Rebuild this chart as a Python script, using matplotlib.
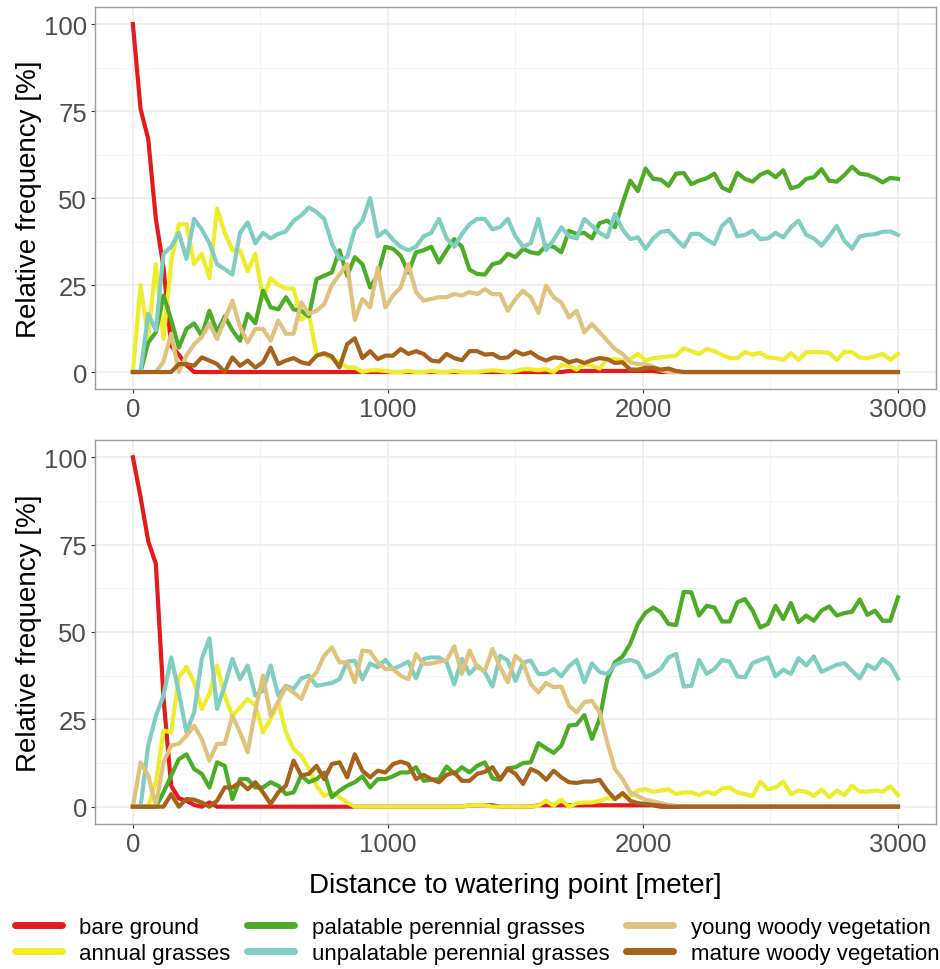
import numpy as np
import matplotlib
matplotlib.use("Agg")
import matplotlib.pyplot as plt
from matplotlib.lines import Line2D

plt.rcParams['font.family'] = ['Liberation Sans', 'DejaVu Sans']

# distance classes (m), one value every 30 m
distance = list(range(0, 3001, 30))

series_names = ["bare ground", "annual grasses", "palatable perennial grasses",
                "unpalatable perennial grasses", "young woody vegetation",
                "mature woody vegetation"]
colours = ["#E41A1C", "#EDED2B", "#4DAC26", "#80CDC1", "#DFC27D", "#A6611A"]

# ---- upper panel ----
top_bare = [100, 75.6, 67, 44, 30, 7.5, 5, 2, 0, 0,
            0, 0, 0, 0, 0, 0, 0, 0, 0, 0,
            0, 0, 0, 0, 0, 0, 0, 0, 0, 0,
            0, 0, 0, 0, 0, 0, 0, 0, 0, 0,
            0, 0, 0, 0, 0, 0, 0, 0, 0, 0,
            0, 0, 0, 0, 0, 0, 0, 0.3, 0.3, 0.3,
            0.3, 0.3, 0.3, 0.3, 0.3, 0.3, 0.3, 0.3, 0.3, 0,
            0, 0, 0, 0, 0, 0, 0, 0, 0, 0,
            0, 0, 0, 0, 0, 0, 0, 0, 0, 0,
            0, 0, 0, 0, 0, 0, 0, 0, 0, 0,
            0]
top_annual = [0, 25, 10, 31, 9.5, 31.5, 42.5, 42.5, 31, 34,
              27, 47, 40, 35, 35, 29, 34, 21, 27, 25,
              24, 24, 15, 17, 5, 5, 4, 3, 1.3, 1.3,
              0, 0.5, 0.5, 0.3, 0, 0, 0.3, 0, 0, 0.3,
              0, 0, 0.3, 0, 0, 0, 0.3, 0.5, 0.3, 0,
              0.3, 0.8, 0.8, 0.5, 0.8, 0, 2, 1.8, 0.7, 2.3,
              1.8, 1, 3.7, 3.7, 3.3, 3.7, 5.2, 3.3, 4, 4.2,
              4.5, 4.7, 6.8, 6, 5.2, 6.6, 6, 4.9, 4, 4,
              5.7, 5, 5.5, 4.2, 4, 3.5, 5.4, 3.5, 5.7, 5.8,
              5.7, 5.5, 3.5, 5.8, 5.7, 4.2, 4, 4.5, 5.2, 3.5,
              5.2]
top_palatable = [0, 0, 8.5, 11.4, 22, 15, 7, 12.4, 14, 10.4,
                 17.6, 11.4, 16, 12, 9, 16.7, 14, 23.4, 18.6, 18,
                 21.5, 18, 17.6, 16, 26.7, 27.7, 28.6, 35, 27.7, 33,
                 31, 24.3, 28, 36, 35.4, 33.4, 28.6, 34.4, 35, 36,
                 31.5, 35, 38.2, 36, 29.4, 28.2, 28, 31, 31.5, 34,
                 33, 35.4, 34.4, 34, 36.3, 36, 34.4, 40.6, 39.7, 40,
                 38.4, 42.8, 43.5, 41.6, 48.5, 55, 52, 58.5, 55.5, 55.3,
                 53.5, 57, 57.2, 54, 55, 55.7, 57, 53, 52, 57.2,
                 55.5, 54.7, 56.7, 57.6, 56, 58, 52.8, 53.4, 55.5, 56,
                 58.3, 55, 54.7, 56.6, 59, 57, 56.7, 55.8, 54.5, 55.8,
                 55.5]
top_unpalatable = [0, 0, 16.7, 12, 34, 36, 40, 32.5, 44, 41,
                   37, 31, 29.6, 28, 40, 43, 37, 40, 38.4, 39.7,
                   40.4, 43.5, 45, 47.3, 46, 44, 37, 32.5, 33, 41,
                   43.5, 50, 39, 40.6, 38, 36, 35, 36, 39, 40,
                   44, 38.4, 36, 39.7, 42.5, 44, 44, 41, 41.7, 44,
                   39, 36, 37, 44, 35, 38, 41.6, 39, 38.4, 44,
                   42, 40, 38.7, 45.4, 41, 38.2, 38.7, 35.4, 38.4, 40.3,
                   40.6, 38.2, 36, 39.7, 39.7, 38, 36.8, 42, 44, 39,
                   39.4, 40.6, 38.2, 38.4, 40, 38.7, 41.6, 43.5, 39.4, 38.4,
                   36.3, 39, 42, 37.7, 35.5, 39, 39.4, 39.6, 40.3, 40.4,
                   39.4]
top_young = [0, 0, 0, 0, 3, 11, 0, 4.7, 8, 10,
             14, 9.5, 15, 20.5, 13, 8.5, 12.4, 12.4, 9, 14.8,
             11, 11, 20, 16.7, 17.6, 19.5, 25, 28, 31, 15,
             21, 18.6, 30, 18.6, 22, 24.3, 31, 23, 20.5, 21,
             21.5, 21.5, 22.4, 22, 23, 22.4, 23.8, 22.4, 22.4, 17.6,
             21, 23.4, 21.5, 17, 24.8, 21.5, 20, 15.7, 17.6, 11.4,
             13.8, 11.4, 9, 6.6, 5.2, 2.8, 2.3, 2.3, 1.5, 0.5,
             0, 0, 0, 0, 0, 0, 0, 0, 0, 0,
             0, 0, 0, 0, 0, 0, 0, 0, 0, 0,
             0, 0, 0, 0, 0, 0, 0, 0, 0, 0,
             0]
top_mature = [0, 0, 0, 0, 0, 0, 2.3, 2.3, 1.8, 4.2,
              3.3, 2.3, 0, 4.2, 1.8, 3.3, 1.3, 2.8, 7, 2.3,
              3.3, 4, 2.8, 2.3, 4.7, 5.4, 4.5, 1.3, 8, 9.7,
              4, 6, 3.7, 4.7, 4.7, 6.6, 5.2, 6, 5.2, 3.3,
              3, 5.2, 4, 3.4, 6, 6, 5, 5.2, 4, 4.2,
              6, 5, 5.7, 4.2, 3.3, 4.2, 4, 2.8, 3.4, 2.6,
              3.4, 4, 3.7, 2.6, 2.8, 0.7, 0.7, 1.2, 1.2, 0.7,
              1, 0.3, 0, 0, 0, 0, 0, 0, 0, 0,
              0, 0, 0, 0, 0, 0, 0, 0, 0, 0,
              0, 0, 0, 0, 0, 0, 0, 0, 0, 0,
              0]

# ---- lower panel ----
bot_bare = [100, 88.6, 76, 69.5, 31, 6, 2.4, 1.7, 0.5, 0,
            1.2, 0, 0, 0, 0, 0, 0, 0, 0, 0,
            0, 0, 0, 0, 0, 0, 0, 0, 0, 0,
            0, 0, 0, 0, 0, 0, 0, 0, 0, 0,
            0, 0, 0, 0, 0.4, 0.4, 0.4, 0.4, 0, 0,
            0, 0, 0, 0.4, 0.4, 0.4, 0.4, 0.4, 0.4, 0.4,
            0.4, 0.4, 0.4, 0.4, 0.4, 0.4, 0.4, 0.4, 0.4, 0,
            0, 0, 0, 0, 0, 0, 0, 0, 0, 0,
            0, 0, 0, 0, 0, 0, 0, 0, 0, 0,
            0, 0, 0, 0, 0, 0, 0, 0, 0, 0,
            0]
bot_annual = [0, 0, 0, 7, 21.8, 21.3, 37, 40, 35.6, 28,
              32.3, 40.4, 31.8, 26, 28.4, 30.8, 29, 21.3, 25, 30,
              21.3, 16.5, 14.6, 10.8, 6, 3.1, 4.1, 2.7, 1.2, 0,
              0, 0, 0, 0, 0, 0, 0, 0, 0, 0,
              0, 0, 0, 0, 0.4, 0.5, 0.4, 0, 0, 0,
              0, 0, 0, 0.3, 1.7, 0.3, 2, 0, 1, 1.2,
              1.2, 1.7, 2.4, 2.2, 3.1, 3, 4.6, 5, 4.3, 4.6,
              5, 3.6, 4.1, 4.1, 3.3, 4.3, 3.6, 5.2, 5.5, 4.1,
              3.6, 3, 7.2, 5, 5.5, 7.2, 3.6, 4.6, 4.3, 3.1,
              4.9, 2.7, 4.6, 3.3, 6, 4.3, 4.3, 4.6, 4.3, 5.8,
              3.3]
bot_palatable = [0, 0, 0, 0, 4.1, 8.9, 13.6, 15, 10.8, 9.4,
                 5.5, 12.7, 11.7, 2.2, 7.9, 7.9, 5.5, 5.5, 7, 6,
                 3.6, 4.1, 8.9, 7, 7.9, 9.8, 2.7, 4.6, 6, 7,
                 8.7, 5.5, 7.9, 7.9, 8.7, 9.8, 9.8, 11.3, 7.4, 7.7,
                 7.9, 11.5, 9.4, 11.3, 9.8, 11.7, 12.7, 8.1, 7.7, 11,
                 11.3, 12.5, 12.7, 18.2, 16.7, 15.4, 17.5, 23.2, 23.5, 26.2,
                 19.4, 25.1, 36.5, 41.3, 43, 46.6, 52.3, 55.5, 57, 55.6,
                 52.3, 52, 61.5, 61.3, 54.7, 57.5, 57, 53, 53, 58.5,
                 59.4, 56.1, 51.3, 52.3, 57.5, 53.7, 58.3, 52.8, 54.7, 53.2,
                 56.1, 57.3, 54.7, 55.4, 55.8, 59.3, 54.9, 56.1, 53.2, 53.2,
                 59.9]
bot_unpalatable = [0, 0, 17.5, 26, 31.8, 42.7, 32.7, 21.3, 27, 42.3,
                   48.2, 28, 34.6, 42.3, 36.5, 40.4, 31.8, 33.2, 40.4, 31.8,
                   34.6, 33.7, 36.7, 37.5, 34.6, 35, 35.4, 36.5, 41.5, 41.8,
                   36.5, 41, 39.9, 42, 39.4, 40.4, 41.5, 36.7, 42.3, 42.7,
                   42.7, 41.3, 35, 42.3, 38, 40.4, 38.5, 34.4, 43.2, 41.8,
                   36, 41.3, 41.8, 38, 38, 39.4, 37.3, 40.2, 42, 35.6,
                   41, 38.5, 38, 40.6, 41.5, 42, 41.3, 37, 38, 39.4,
                   42.7, 43.7, 34.4, 34.6, 42, 38, 39.4, 42, 41.5, 37.3,
                   37, 41.1, 42, 42.7, 37.3, 39.2, 38, 42.5, 40.4, 43,
                   38.6, 39.6, 40.6, 41.1, 38.9, 36.7, 40.6, 39.4, 42.3, 40.6,
                   36.7]
bot_young = [0, 12.7, 8.9, 0.3, 12.7, 17.5, 18, 20.3, 23.2, 19.4,
             13.2, 18, 18, 26, 21.3, 15.6, 27.5, 37.5, 26, 30,
             34.2, 32.7, 30.8, 36, 38.5, 43.2, 45.6, 41.3, 41.3, 35.6,
             44.7, 44.4, 41.3, 39.4, 39.4, 37.5, 36.5, 43.7, 40.8, 41,
             41.5, 41.8, 45.9, 38, 44.7, 39.9, 38.9, 45.1, 39.9, 35.6,
             43.2, 41.3, 35.1, 32.7, 35.4, 34.2, 34.4, 28.9, 27, 29.9,
             30.3, 27, 18.4, 10.8, 7.9, 4.1, 3, 2, 1.5, 1,
             0.5, 0.3, 0, 0, 0, 0, 0, 0, 0, 0,
             0, 0, 0, 0, 0, 0, 0, 0, 0, 0,
             0, 0, 0, 0, 0, 0, 0, 0, 0, 0,
             0]
bot_mature = [0, 0, 0, 0, 0, 3.6, 0, 2.2, 2, 1.2,
              0, 1.7, 5.5, 5.5, 7, 5, 7, 4.1, 0.8, 4.1,
              6, 13.2, 8.9, 9.4, 11.7, 7.9, 12.2, 12.7, 8.4, 15,
              10.3, 8.4, 10.3, 9.8, 12.2, 12.9, 12.2, 7.9, 9.1, 7.9,
              7, 9.1, 9.8, 7.4, 7.4, 9.4, 10, 11.3, 7.9, 10.8,
              9.4, 6.5, 10.8, 9.8, 7.7, 10.3, 8.4, 7, 6.8, 7.2,
              7.2, 7.7, 4.6, 2.2, 3.9, 1.7, 1, 0.8, 0.5, 0.3,
              0, 0, 0, 0, 0, 0, 0, 0, 0, 0,
              0, 0, 0, 0, 0, 0, 0, 0, 0, 0,
              0, 0, 0, 0, 0, 0, 0, 0, 0, 0,
              0]

top_series = [top_bare, top_annual, top_palatable, top_unpalatable, top_young, top_mature]
bot_series = [bot_bare, bot_annual, bot_palatable, bot_unpalatable, bot_young, bot_mature]

fig = plt.figure(figsize=(9.4, 9.7), dpi=100)
ax_top = fig.add_axes([0.1007, 0.5975, 0.8953, 0.3946])
ax_bot = fig.add_axes([0.1007, 0.1493, 0.8953, 0.3963])

for ax, panel in [(ax_top, top_series), (ax_bot, bot_series)]:
    for vals, col in zip(panel, colours):
        ax.plot(distance, vals, color=col, lw=3.0, solid_joinstyle='round')
    ax.set_xlim(-150, 3150)
    ax.set_ylim(-5, 105)
    ax.set_xticks([0, 1000, 2000, 3000])
    ax.set_yticks([0, 25, 50, 75, 100])
    ax.set_xticks([500, 1500, 2500], minor=True)
    ax.set_yticks([12.5, 37.5, 62.5, 87.5], minor=True)
    ax.grid(which='major', color='#EBEBEB', lw=1.1)
    ax.grid(which='minor', color='#F2F2F2', lw=0.6)
    ax.set_axisbelow(True)
    ax.tick_params(which='minor', length=0)
    ax.tick_params(which='major', length=3, width=0.8, color='#333333',
                   labelsize=18.5, labelcolor='#4D4D4D', pad=2.5)
    for sp in ax.spines.values():
        sp.set_color('#9A9A9A')
        sp.set_linewidth(1.0)
    ax.set_ylabel('Relative frequency [%]', fontsize=20)
    ax.yaxis.set_label_coords(-0.062, 0.5)

ax_bot.set_xlabel('Distance to watering point [meter]', fontsize=20)
ax_bot.xaxis.set_label_coords(0.5, -0.124)

handles = [Line2D([], [], color=c, lw=5, solid_capstyle='round') for c in colours]
fig.legend(handles, series_names, ncol=3, loc='center left',
           bbox_to_anchor=(0.016, 0.0294), frameon=False, fontsize=16,
           handlelength=2.1, handletextpad=0.8, columnspacing=0.75,
           labelspacing=0.25, borderpad=0, borderaxespad=0)

fig.savefig('out.png', dpi=100)
